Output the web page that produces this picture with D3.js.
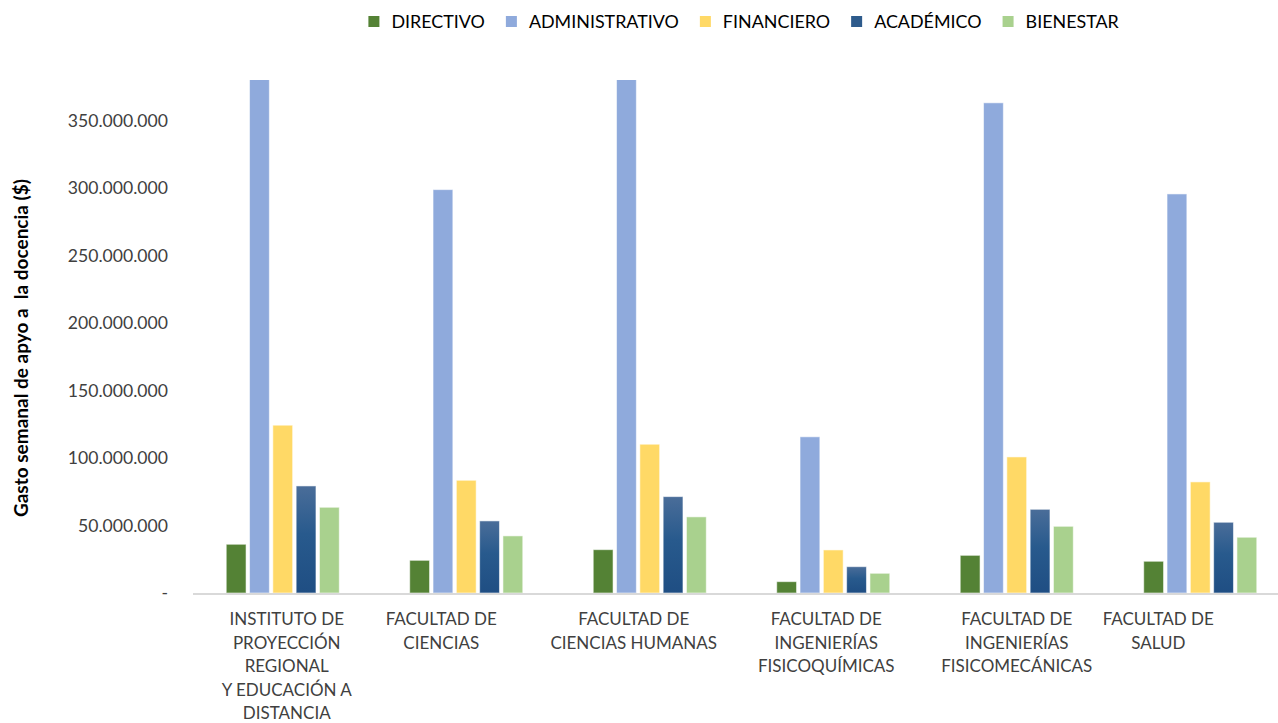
<!DOCTYPE html>
<html>
<head>
<meta charset="utf-8">
<script src="https://cdn.jsdelivr.net/npm/d3@7.9.0/dist/d3.min.js"></script>
<style>
  html, body { margin: 0; padding: 0; background: #fff; }
  svg { display: block; font-family: Lato, "Open Sans", sans-serif; }
</style>
</head>
<body>
<div id="chart"></div>
<script>
// categories (each label already split into its lines)
const categories = ['IPRED', 'CIENCIAS', 'HUMANAS', 'FISICOQ', 'FISICOM', 'SALUD'];
const categoryLines = [
  ['INSTITUTO DE', 'PROYECCIÓN', 'REGIONAL', 'Y EDUCACIÓN A', 'DISTANCIA'],
  ['FACULTAD DE', 'CIENCIAS'],
  ['FACULTAD DE', 'CIENCIAS HUMANAS'],
  ['FACULTAD DE', 'INGENIERÍAS', 'FISICOQUÍMICAS'],
  ['FACULTAD DE', 'INGENIERÍAS', 'FISICOMECÁNICAS'],
  ['FACULTAD DE', 'SALUD']
];
const series = ['DIRECTIVO', 'ADMINISTRATIVO', 'FINANCIERO', 'ACADÉMICO', 'BIENESTAR'];

// gasto semanal ($) per series, one value per category
const directivo      = [36100000, 24200000, 32100000, 8400000, 27900000, 23500000];
const administrativo = [395000000, 298800000, 392000000, 115700000, 363100000, 295600000];
const financiero     = [124300000, 83500000, 110200000, 31900000, 100800000, 82300000];
const academico      = [79300000, 53400000, 71400000, 19500000, 62000000, 52400000];
const bienestar      = [63500000, 42300000, 56400000, 14600000, 49400000, 41300000];

const yTicks = [0, 50e6, 100e6, 150e6, 200e6, 250e6, 300e6, 350e6];
const yMax = 380e6;

const colors = ['#548235', '#8faadc', '#ffd966', 'url(#acadGrad)', '#a9d18e'];
const legendColors = ['#548235', '#8faadc', '#ffd966', '#2e5b8c', '#a9d18e'];

// label nudges as drawn in the source chart
const labelDx = [4, -25, -16, -7, 0, -42];

const table = categories.map((c, i) => ({
  key: c,
  values: [directivo[i], administrativo[i], financiero[i], academico[i], bienestar[i]]
}));

const width = 1278, height = 723;
const plot = { left: 191, right: 1292, top: 80, bottom: 593 };

const svg = d3.select('#chart').append('svg')
  .attr('width', width)
  .attr('height', height);

const defs = svg.append('defs');
const grad = defs.append('linearGradient')
  .attr('id', 'acadGrad')
  .attr('x1', 0).attr('y1', 0).attr('x2', 0).attr('y2', 1);
grad.append('stop').attr('offset', '0%').attr('stop-color', '#4a6d99');
grad.append('stop').attr('offset', '45%').attr('stop-color', '#285a8d');
grad.append('stop').attr('offset', '100%').attr('stop-color', '#1f4e83');

defs.append('clipPath').attr('id', 'plotClip')
  .append('rect')
  .attr('x', plot.left).attr('y', plot.top)
  .attr('width', plot.right - plot.left)
  .attr('height', plot.bottom - plot.top);

const x0 = d3.scaleBand()
  .domain(categories)
  .range([plot.left, plot.right])
  .paddingInner(0.384)
  .paddingOuter(0.192);

const x1 = d3.scaleBand()
  .domain(series)
  .range([0, x0.bandwidth()])
  .paddingInner(0.15)
  .paddingOuter(0);

const y = d3.scaleLinear().domain([0, yMax]).range([plot.bottom, plot.top]);

const locale = d3.formatLocale({ decimal: ',', thousands: '.', grouping: [3], currency: ['$', ''] });
const fmt = locale.format(',');

// y axis labels (no line, no ticks)
const yAxis = d3.axisLeft(y)
  .tickValues(yTicks)
  .tickSize(0)
  .tickPadding(0)
  .tickFormat(d => d === 0 ? '-' : fmt(d));

svg.append('g')
  .attr('transform', `translate(168,0)`)
  .call(yAxis)
  .call(g => g.select('.domain').remove())
  .call(g => g.selectAll('text')
    .attr('fill', '#404040')
    .style('font-family', 'Lato, sans-serif')
    .style('font-size', '17.6px'));

// y title
svg.append('text')
  .attr('transform', `translate(28,${348}) rotate(-90)`)
  .attr('text-anchor', 'middle')
  .attr('fill', '#000')
  .style('font-size', '19px')
  .style('font-weight', 'bold')
  .style('white-space', 'pre')
  .text('Gasto semanal de apyo a  la docencia ($)');

// bars
const bars = svg.append('g').attr('clip-path', 'url(#plotClip)');
bars.selectAll('g')
  .data(table)
  .join('g')
    .attr('transform', d => `translate(${x0(d.key)},0)`)
  .selectAll('rect')
  .data(d => d.values.map((v, i) => ({ s: series[i], v, i })))
  .join('rect')
    .attr('x', d => x1(d.s))
    .attr('y', d => y(d.v))
    .attr('width', x1.bandwidth())
    .attr('height', d => y(0) - y(d.v))
    .attr('fill', d => colors[d.i])
    .attr('stroke', '#ffffff')
    .attr('stroke-opacity', 0.55)
    .attr('stroke-width', 1);

// baseline
svg.append('line')
  .attr('x1', 193).attr('x2', width)
  .attr('y1', y(0) + 1).attr('y2', y(0) + 1)
  .attr('stroke', '#d9d9d9')
  .attr('stroke-width', 2);

// category labels
const catG = svg.append('g');
categories.forEach((c, i) => {
  const t = catG.append('text')
    .attr('text-anchor', 'middle')
    .attr('fill', '#404040')
    .style('font-size', '17px');
  categoryLines[i].forEach((line, j) => {
    t.append('tspan')
      .attr('x', x0(c) + x0.bandwidth() / 2 + labelDx[i])
      .attr('y', 625 + j * 23.6)
      .text(line);
  });
});

// legend
const legend = svg.append('g').attr('transform', 'translate(0,22)');
const items = legend.selectAll('g')
  .data(series)
  .join('g');
items.append('rect')
  .attr('width', 11).attr('height', 11)
  .attr('y', -6)
  .attr('fill', (d, i) => legendColors[i]);
items.append('text')
  .attr('x', 23)
  .attr('dy', '0.35em')
  .attr('fill', '#000')
  .style('font-size', '17.9px')
  .text(d => d);

let lx = 0;
const gap = 21;
items.each(function () {
  const w = this.getBBox().width;
  d3.select(this).attr('data-w', w);
});
const widths = items.nodes().map(n => +n.getAttribute('data-w'));
const total = d3.sum(widths) + gap * (widths.length - 1);
lx = 744 - total / 2;
items.attr('transform', (d, i) => {
  const pos = lx;
  lx += widths[i] + gap;
  return `translate(${pos},0)`;
});
</script>
</body>
</html>
